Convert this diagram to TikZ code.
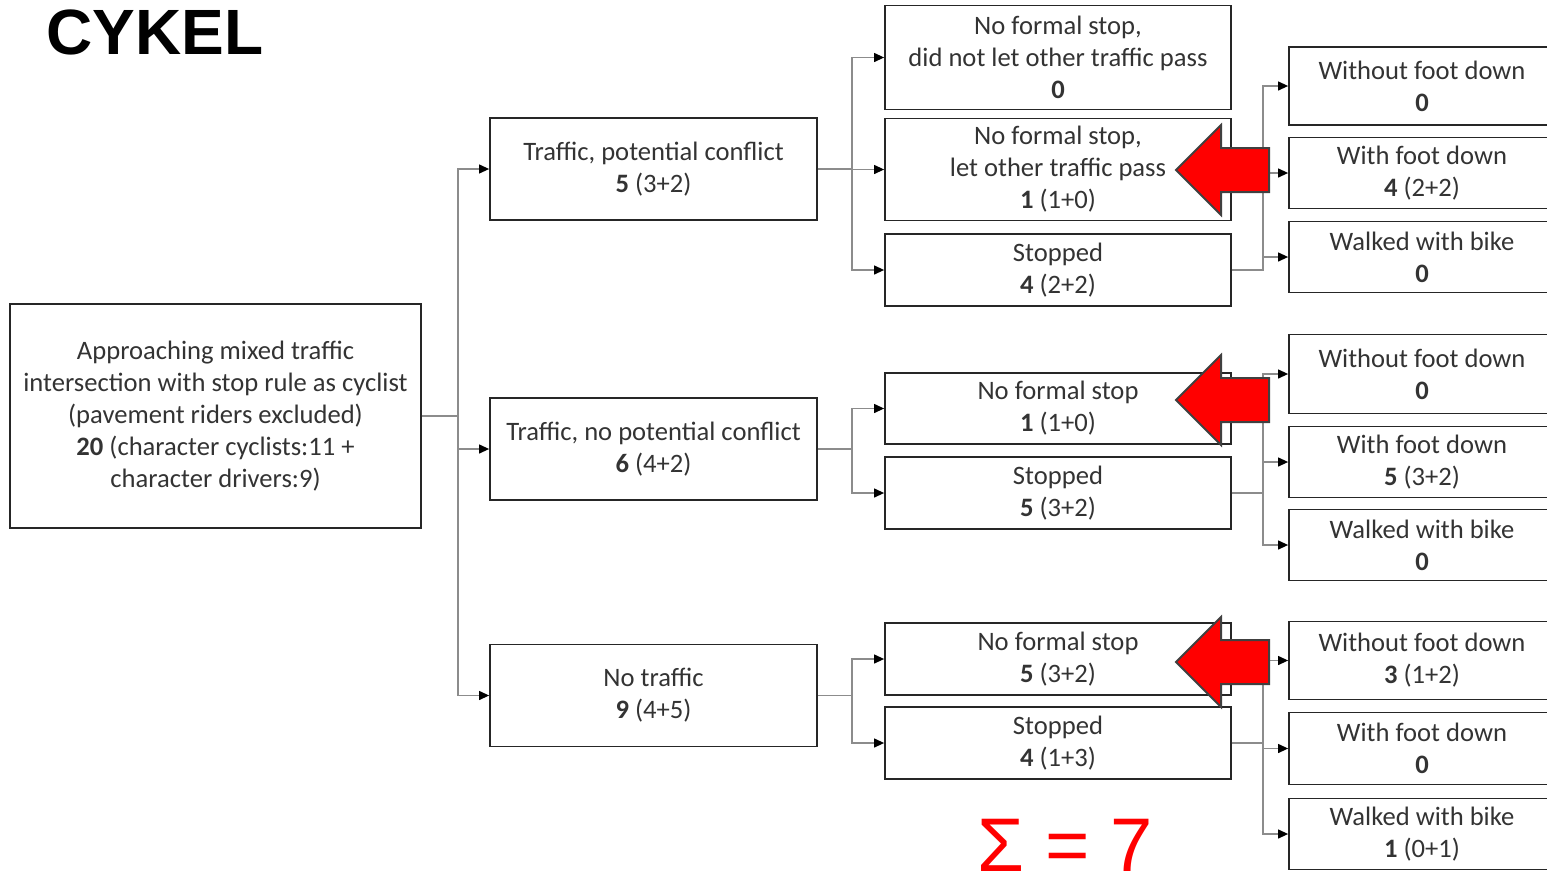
\documentclass[tikz,border=0pt]{standalone}
\usepackage{fontspec}
\setmainfont{Carlito}
\newfontfamily\headfont{Liberation Sans}
\usetikzlibrary{arrows.meta}
\usetikzlibrary{positioning}
\tikzset{
    box/.style={
        rectangle, align=center, inner sep=0pt,
        draw=black!85, line width=0.9pt,
        text=black!80, font=\fontsize{13.3}{16}\selectfont,
    },
    link/.style={
        draw=black!45, line width=0.6pt,
        -{Triangle[length=5pt,width=4.5pt,color=black]},
    },
    redarrow/.style={
        fill=red, draw=black!75, line width=1pt, line join=miter,
    },
}

\begin{document}
\begin{tikzpicture}[x=0.5pt, y=-0.5pt]
    \useasboundingbox (0,0) rectangle (1547,889);

    \node (title) at (155,32) [font=\headfont\bfseries\fontsize{32}{36}\selectfont] {CYKEL};

    \node (root) at (215.5,416) [box, minimum width=205.5pt, minimum height=112pt]
        {Approaching mixed traffic\\intersection with stop rule as cyclist\\(pavement riders excluded)\\\textbf{20} (character cyclists:11 +\\character drivers:9)};

    \node (conflict) at (653.5,169) [box, minimum width=163.5pt, minimum height=51pt]
        {Traffic, potential conflict\\\textbf{5} (3+2)};
    \node (noconflict) at (653.5,449) [box, minimum width=163.5pt, minimum height=51pt]
        {Traffic, no potential conflict\\\textbf{6} (4+2)};
    \node (notraffic) at (653.5,695.5) [box, minimum width=163.5pt, minimum height=51pt]
        {No traffic\\\textbf{9} (4+5)};

    \node (nopass) at (1058,57.5) [box, minimum width=173pt, minimum height=52pt]
        {No formal stop,\\did not let other traffic pass\\\textbf{0}};
    \node (pass) at (1058,169.5) [box, minimum width=173pt, minimum height=51pt]
        {No formal stop,\\let other traffic pass\\\textbf{1} (1+0)};
    \node (stopa) at (1058,270) [box, minimum width=173pt, minimum height=36pt]
        {Stopped\\\textbf{4} (2+2)};
    \node (nostopb) at (1058,408.5) [box, minimum width=173pt, minimum height=35.5pt]
        {No formal stop\\\textbf{1} (1+0)};
    \node (stopb) at (1058,493) [box, minimum width=173pt, minimum height=36pt]
        {Stopped\\\textbf{5} (3+2)};
    \node (nostopc) at (1058,659) [box, minimum width=173pt, minimum height=36pt]
        {No formal stop\\\textbf{5} (3+2)};
    \node (stopc) at (1058,743) [box, minimum width=173pt, minimum height=36pt]
        {Stopped\\\textbf{4} (1+3)};

    % outcomes, cut off by the right border
    \node (footupa) at (1422,86) [box, minimum width=133pt, minimum height=39pt]
        {Without foot down\\\textbf{0}};
    \node (footdowna) at (1422,173) [box, minimum width=133pt, minimum height=35.5pt]
        {With foot down\\\textbf{4} (2+2)};
    \node (walkeda) at (1422,257) [box, minimum width=133pt, minimum height=35.5pt]
        {Walked with bike\\\textbf{0}};
    \node (footupb) at (1422,374) [box, minimum width=133pt, minimum height=39.5pt]
        {Without foot down\\\textbf{0}};
    \node (footdownb) at (1422,462) [box, minimum width=133pt, minimum height=35.5pt]
        {With foot down\\\textbf{5} (3+2)};
    \node (walkedb) at (1422,545) [box, minimum width=133pt, minimum height=35.5pt]
        {Walked with bike\\\textbf{0}};
    \node (footupc) at (1422,660.5) [box, minimum width=133pt, minimum height=39pt]
        {Without foot down\\\textbf{3} (1+2)};
    \node (footdownc) at (1422,748.5) [box, minimum width=133pt, minimum height=36pt]
        {With foot down\\\textbf{0}};
    \node (walkedc) at (1422,834) [box, minimum width=133pt, minimum height=35.5pt]
        {Walked with bike\\\textbf{1} (0+1)};

    \draw[link] (root.east) -- ++(36,0) |- (conflict.west);
    \draw[link] (root.east) -- ++(36,0) |- (noconflict.west);
    \draw[link] (root.east) -- ++(36,0) |- (notraffic.west);

    \draw[link] (conflict.east) -- ++(34,0) |- (nopass.west);
    \draw[link] (conflict.east) -- ++(34,0) |- (pass.west);
    \draw[link] (conflict.east) -- ++(34,0) |- (stopa.west);
    \draw[link] (noconflict.east) -- ++(34,0) |- (nostopb.west);
    \draw[link] (noconflict.east) -- ++(34,0) |- (stopb.west);
    \draw[link] (notraffic.east) -- ++(34,0) |- (nostopc.west);
    \draw[link] (notraffic.east) -- ++(34,0) |- (stopc.west);

    \draw[link] (stopa.east) -- ++(31,0) |- (footupa.west);
    \draw[link] (stopa.east) -- ++(31,0) |- (footdowna.west);
    \draw[link] (stopa.east) -- ++(31,0) |- (walkeda.west);
    \draw[link] (stopb.east) -- ++(31,0) |- (footupb.west);
    \draw[link] (stopb.east) -- ++(31,0) |- (footdownb.west);
    \draw[link] (stopb.east) -- ++(31,0) |- (walkedb.west);
    \draw[link] (stopc.east) -- ++(31,0) |- (footupc.west);
    \draw[link] (stopc.east) -- ++(31,0) |- (footdownc.west);
    \draw[link] (stopc.east) -- ++(31,0) |- (walkedc.west);

    % red markers
    \foreach \y in {170,400,662} {
        \draw[redarrow] (1176,\y) -- (1221,\y-45) -- (1221,\y-22) -- (1269,\y-22)
            -- (1269,\y+22) -- (1221,\y+22) -- (1221,\y+45) -- cycle;
    }

    \node (total) at (1065,871) [anchor=base, inner sep=0pt, text=red, font=\headfont\fontsize{38}{42}\selectfont] {Σ = 7};
\end{tikzpicture}
\end{document}
